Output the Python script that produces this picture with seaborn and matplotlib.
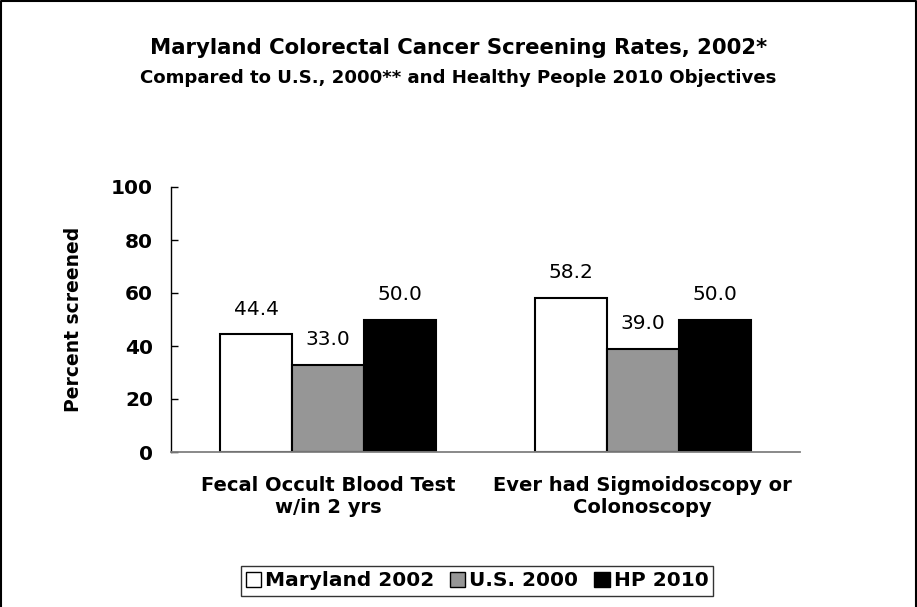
import matplotlib
matplotlib.use("Agg")
import matplotlib.pyplot as plt
from matplotlib.patches import Patch
from matplotlib.lines import Line2D
import seaborn as sns
import pandas as pd

# chart data
categories = ["Fecal Occult Blood Test\nw/in 2 yrs", "Ever had Sigmoidoscopy or\nColonoscopy"]
series = ["Maryland 2002", "U.S. 2000", "HP 2010"]
maryland_2002 = [44.4, 58.2]
us_2000 = [33.0, 39.0]
hp_2010 = [50.0, 50.0]
y_ticks = [0, 20, 40, 60, 80, 100]

colors = {"Maryland 2002": "#ffffff", "U.S. 2000": "#969696", "HP 2010": "#000000"}

rows = []
for name, vals in zip(series, [maryland_2002, us_2000, hp_2010]):
    for cat, v in zip(categories, vals):
        rows.append({"category": cat, "series": name, "value": v})
df = pd.DataFrame(rows)

sns.set_theme(style="white")
plt.rcParams["font.family"] = ["DejaVu Sans"]
plt.rcParams["text.color"] = "black"
plt.rcParams["axes.labelcolor"] = "black"
plt.rcParams["xtick.color"] = "black"
plt.rcParams["ytick.color"] = "black"

fig = plt.figure(figsize=(9.17, 6.07), dpi=100)
ax = fig.add_axes([171 / 917, 1 - 452 / 607, 629 / 917, 265 / 607])

sns.barplot(data=df, x="category", y="value", hue="series", order=categories,
            hue_order=series, palette=colors, width=0.687, edgecolor="black",
            linewidth=1.5, saturation=1, ax=ax, legend=False)

for container in ax.containers:
    ax.bar_label(container, fmt="%.1f", padding=11, fontsize=14.5, color="black")

ax.set_ylim(0, 100)
ax.set_xlim(-0.5, 1.5)
ax.set_yticks(y_ticks)
ax.set_yticklabels([str(t) for t in y_ticks], fontsize=14.5, fontweight="bold")
ax.tick_params(axis="y", direction="in", length=5, width=1, color="black", pad=13, left=True)
ax.tick_params(axis="x", length=0, pad=17)
for lbl in ax.get_xticklabels():
    lbl.set_fontsize(14)
    lbl.set_fontweight("bold")
    lbl.set_linespacing(1.25)
ax.set_xlabel("")
ax.set_ylabel("Percent screened", fontsize=13.5, fontweight="bold", labelpad=20)

sns.despine(ax=ax, top=True, right=True)
ax.spines["left"].set_color("black")
ax.spines["left"].set_linewidth(1)
ax.spines["bottom"].set_color("#808080")
ax.spines["bottom"].set_linewidth(1.3)

fig.text(0.5, 1 - 48 / 607, "Maryland Colorectal Cancer Screening Rates, 2002*",
         ha="center", va="center", fontsize=15.3, fontweight="bold")
fig.text(0.5, 1 - 78 / 607, "Compared to U.S., 2000** and Healthy People 2010 Objectives",
         ha="center", va="center", fontsize=13.1, fontweight="bold")

# legend
handles = [Patch(facecolor=colors[s], edgecolor="black", linewidth=1) for s in series]
leg = fig.legend(handles, series, loc="center", bbox_to_anchor=(477 / 917, 1 - 581 / 607),
                 ncol=3, frameon=True, fancybox=False, edgecolor="black",
                 prop={"size": 14.5, "weight": "bold"}, handlelength=0.75, handleheight=0.75,
                 handletextpad=0.2, columnspacing=0.8, borderpad=0.25, borderaxespad=0)
leg.get_frame().set_linewidth(1)

# outer frame (left, top, right)
fig.add_artist(Line2D([0.001, 0.001, 0.999, 0.999], [0, 0.999, 0.999, 0],
                      transform=fig.transFigure, color="black", linewidth=1.5))

fig.savefig("out.png", dpi=100)
